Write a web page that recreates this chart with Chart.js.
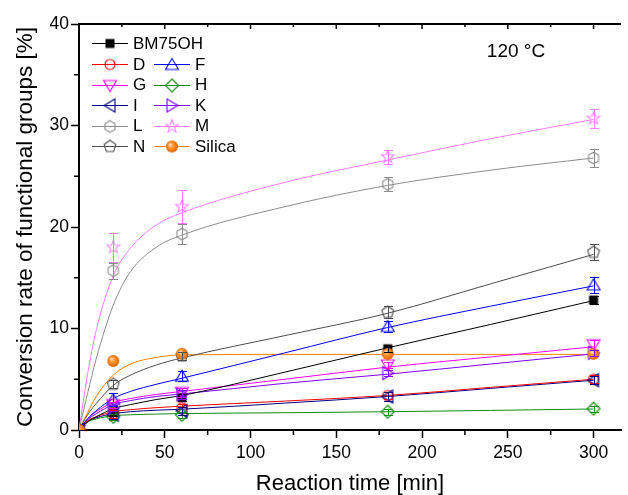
<!DOCTYPE html>
<html>
<head>
<meta charset="utf-8">
<script src="https://cdn.jsdelivr.net/npm/chart.js@4.4.1/dist/chart.umd.min.js"></script>
<style>
  html, body { margin: 0; padding: 0; background: #ffffff; }
  #wrap { width: 628px; height: 495px; }
</style>
</head>
<body>
<div id="wrap"><canvas id="chart" width="628" height="495"></canvas></div>
<script>
// Sampling times of the measured points and of the fitted curves (min)
const timePoints = [0, 20, 60, 180, 300];
const fitTimes = [0, 5, 10, 20, 30, 45, 60, 120, 180, 240, 300];

// Axis ticks
const xTicks = [0, 50, 100, 150, 200, 250, 300];
const xMinorTicks = [25, 75, 125, 175, 225, 275];
const yTicks = [0, 10, 20, 30, 40];
const yMinorTicks = [5, 15, 25, 35];

// Measured conversion rates (%) at timePoints, with standard deviations
const valBM75OH = [0, 1.8, 3.2, 8.0, 12.8];
const errBM75OH = [0, 0.4, 0.3, 0.3, 0.4];
const valD = [0, 1.6, 2.2, 3.4, 5.0];
const errD = [0, 0.4, 0.4, 0.3, 0.4];
const valF = [0, 3.0, 5.3, 10.2, 14.3];
const errF = [0, 0.6, 0.5, 0.5, 0.8];
const valG = [0, 2.5, 3.7, 6.4, 8.4];
const errG = [0, 0.3, 0.4, 0.3, 0.5];
const valH = [0, 1.3, 1.5, 1.8, 2.1];
const errH = [0, 0.3, 0.3, 0.3, 0.3];
const valI = [0, 1.5, 1.9, 3.3, 4.9];
const errI = [0, 0.4, 0.4, 0.4, 0.4];
const valK = [0, 2.2, 3.5, 5.6, 7.6];
const errK = [0, 0.3, 0.4, 0.3, 0.3];
const valL = [0, 15.7, 19.3, 24.2, 26.8];
const errL = [0, 0.8, 1.0, 0.7, 0.9];
const valM = [0, 18.0, 22.0, 26.9, 30.7];
const errM = [0, 1.4, 1.6, 0.7, 0.9];
const valN = [0, 4.5, 7.3, 11.6, 17.5];
const errN = [0, 0.4, 0.4, 0.6, 0.8];
const valSilica = [0, 6.8, 7.5, 7.5, 7.5];
const errSilica = [0, 0, 0, 0, 0];

// Fitted kinetic curves (%) at fitTimes
const fitBM75OH = [0, 0.8, 1.3, 2.1, 2.5, 3.0, 3.4, 5.7, 8.1, 10.4, 12.75];
const fitD = [0, 0.9, 1.3, 1.8, 2.0, 2.2, 2.35, 2.85, 3.4, 4.2, 5.0];
const fitF = [0, 1.1, 1.9, 3.1, 3.8, 4.5, 5.1, 7.6, 10.1, 12.2, 14.2];
const fitG = [0, 1.1, 1.8, 2.7, 3.1, 3.5, 3.8, 5.0, 6.2, 7.2, 8.2];
const fitH = [0, 0.8, 1.1, 1.4, 1.5, 1.57, 1.62, 1.7, 1.8, 1.93, 2.07];
const fitI = [0, 0.8, 1.2, 1.6, 1.8, 1.95, 2.05, 2.65, 3.3, 4.1, 4.9];
const fitK = [0, 1.0, 1.6, 2.5, 2.9, 3.3, 3.55, 4.6, 5.5, 6.5, 7.5];
const fitL = [0, 3.6, 7.0, 12.3, 15.6, 18.0, 19.2, 22.0, 24.1, 25.6, 26.8];
const fitM = [0, 5.5, 9.8, 15.2, 17.9, 20.2, 21.4, 24.4, 26.6, 28.7, 30.6];
const fitN = [0, 1.5, 2.6, 4.4, 5.4, 6.4, 7.1, 9.3, 11.5, 14.4, 17.3];
const fitSilica = [0, 1.7, 3.3, 5.4, 6.5, 7.15, 7.4, 7.45, 7.45, 7.45, 7.45];

const FONT = "'Liberation Sans', Arial, Helvetica, sans-serif";

const series = [
  { name: 'BM75OH', color: '#000000', shape: 'square',   values: valBM75OH, errors: errBM75OH, fit: fitBM75OH, slot: [0, 0] },
  { name: 'D',      color: '#ff0000', shape: 'circle',   values: valD,      errors: errD,      fit: fitD,      slot: [1, 0] },
  { name: 'F',      color: '#0000ff', shape: 'triUp',    values: valF,      errors: errF,      fit: fitF,      slot: [1, 1] },
  { name: 'G',      color: '#ff00ff', shape: 'triDown',  values: valG,      errors: errG,      fit: fitG,      slot: [2, 0] },
  { name: 'H',      color: '#138a13', shape: 'diamond',  values: valH,      errors: errH,      fit: fitH,      slot: [2, 1] },
  { name: 'I',      color: '#000080', shape: 'triLeft',  values: valI,      errors: errI,      fit: fitI,      slot: [3, 0] },
  { name: 'K',      color: '#8000ff', shape: 'triRight', values: valK,      errors: errK,      fit: fitK,      slot: [3, 1] },
  { name: 'L',      color: '#8c8c8c', shape: 'hexagon',  values: valL,      errors: errL,      fit: fitL,      slot: [4, 0] },
  { name: 'M',      color: '#ff80ff', shape: 'star',     values: valM,      errors: errM,      fit: fitM,      slot: [4, 1] },
  { name: 'N',      color: '#4d4d4d', shape: 'pentagon', values: valN,      errors: errN,      fit: fitN,      slot: [5, 0] },
  { name: 'Silica', color: '#ff8000', shape: 'sphere',   values: valSilica, errors: errSilica, fit: fitSilica, slot: [5, 1] }
];

// Symbol glyphs rendered once to small canvases
function markerCanvas(shape, color) {
  const S = 18;
  const c = document.createElement('canvas');
  c.width = S; c.height = S;
  const g = c.getContext('2d');
  g.translate(S / 2, S / 2);
  g.strokeStyle = color;
  g.fillStyle = color;
  g.lineWidth = 1.1;
  const poly = pts => {
    g.beginPath();
    pts.forEach(([px, py], i) => (i ? g.lineTo(px, py) : g.moveTo(px, py)));
    g.closePath();
  };
  const regular = (n, r) => {
    const pts = [];
    for (let k = 0; k < n; k++) {
      const a = -Math.PI / 2 + k * 2 * Math.PI / n;
      pts.push([r * Math.cos(a), r * Math.sin(a)]);
    }
    poly(pts);
  };
  switch (shape) {
    case 'square': g.fillRect(-4.5, -4.5, 9, 9); break;
    case 'circle': g.beginPath(); g.arc(0, 0, 5, 0, 2 * Math.PI); g.stroke(); break;
    case 'triUp': poly([[0, -6], [6.5, 5], [-6.5, 5]]); g.stroke(); break;
    case 'triDown': poly([[0, 6], [6.5, -5], [-6.5, -5]]); g.stroke(); break;
    case 'triLeft': poly([[-6, 0], [5, -6.5], [5, 6.5]]); g.stroke(); break;
    case 'triRight': poly([[6, 0], [-5, -6.5], [-5, 6.5]]); g.stroke(); break;
    case 'diamond': poly([[0, -6.5], [6.5, 0], [0, 6.5], [-6.5, 0]]); g.stroke(); break;
    case 'hexagon': regular(6, 5.8); g.stroke(); break;
    case 'pentagon': regular(5, 6.2); g.stroke(); break;
    case 'star': {
      const pts = [];
      for (let k = 0; k < 10; k++) {
        const a = -Math.PI / 2 + k * Math.PI / 5;
        const r = k % 2 ? 2.8 : 6.6;
        pts.push([r * Math.cos(a), r * Math.sin(a)]);
      }
      poly(pts); g.stroke(); break;
    }
    case 'sphere': {
      const grad = g.createRadialGradient(-2, -2, 0.5, 0, 0, 6.2);
      grad.addColorStop(0, '#ffe2c4');
      grad.addColorStop(0.35, '#ff9a33');
      grad.addColorStop(1, '#d96200');
      g.fillStyle = grad;
      g.beginPath(); g.arc(0, 0, 6, 0, 2 * Math.PI); g.fill();
      break;
    }
  }
  return c;
}

series.forEach(s => { s.glyph = markerCanvas(s.shape, s.color); });

const datasets = [];
series.forEach((s, i) => {
  datasets.push({
    label: s.name + ' fit',
    data: fitTimes.map((t, k) => ({ x: t, y: s.fit[k] })),
    showLine: true,
    borderColor: s.color,
    borderWidth: 1,
    pointRadius: 0,
    cubicInterpolationMode: 'monotone',
    order: 50
  });
  datasets.push({
    label: s.name,
    data: timePoints.map((t, k) => ({ x: t, y: s.values[k] })),
    showLine: false,
    pointStyle: s.glyph,
    pointRadius: 6,
    borderColor: s.color,
    backgroundColor: 'rgba(0,0,0,0)',
    errors: s.errors,
    seriesColor: s.color,
    order: 30 - i
  });
});

// Vertical error bars with caps, placed through the chart scales
const errorBars = {
  id: 'errorBars',
  afterDatasetsDraw(chart) {
    const { ctx, scales: { x, y } } = chart;
    ctx.save();
    ctx.lineWidth = 1;
    chart.data.datasets.forEach(ds => {
      if (!ds.errors) return;
      ctx.strokeStyle = ds.seriesColor;
      ds.data.forEach((p, k) => {
        const e = ds.errors[k];
        if (!e) return;
        const px = Math.round(x.getPixelForValue(p.x)) + 0.5;
        const y1 = y.getPixelForValue(p.y + e);
        const y2 = y.getPixelForValue(p.y - e);
        ctx.beginPath();
        ctx.moveTo(px, y1); ctx.lineTo(px, y2);
        ctx.moveTo(px - 4.5, Math.round(y1) + 0.5); ctx.lineTo(px + 4.5, Math.round(y1) + 0.5);
        ctx.moveTo(px - 4.5, Math.round(y2) + 0.5); ctx.lineTo(px + 4.5, Math.round(y2) + 0.5);
        ctx.stroke();
      });
    });
    ctx.restore();
  }
};

// Top frame line, minor ticks and inward ticks on the top edge
const frame = {
  id: 'frame',
  afterDraw(chart) {
    const { ctx, chartArea: a, scales: { x, y } } = chart;
    ctx.save();
    ctx.strokeStyle = '#000';
    ctx.lineWidth = 2;
    ctx.beginPath();
    ctx.moveTo(a.left, a.top); ctx.lineTo(a.right, a.top);
    ctx.stroke();
    ctx.lineWidth = 1.5;
    ctx.beginPath();
    xTicks.forEach(v => {
      const px = x.getPixelForValue(v);
      ctx.moveTo(px, a.top); ctx.lineTo(px, a.top + 5);
    });
    xMinorTicks.forEach(v => {
      const px = x.getPixelForValue(v);
      ctx.moveTo(px, a.top); ctx.lineTo(px, a.top + 3);
      ctx.moveTo(px, a.bottom); ctx.lineTo(px, a.bottom + 5);
    });
    yMinorTicks.forEach(v => {
      const py = y.getPixelForValue(v);
      ctx.moveTo(a.left - 5, py); ctx.lineTo(a.left, py);
    });
    ctx.stroke();
    ctx.restore();
  }
};

// Two-column key in the upper left and the temperature note
const seriesKey = {
  id: 'seriesKey',
  afterDraw(chart) {
    const { ctx } = chart;
    const rowY = [43, 64, 84.5, 105, 125.5, 146];
    const cols = [{ l1: 92, l2: 128, m: 110, t: 133 }, { l1: 154, l2: 190, m: 172, t: 195 }];
    ctx.save();
    ctx.font = '17px ' + FONT;
    ctx.textBaseline = 'middle';
    ctx.textAlign = 'left';
    series.forEach(s => {
      const yy = rowY[s.slot[0]];
      const c = cols[s.slot[1]];
      ctx.strokeStyle = s.color;
      ctx.lineWidth = 1.2;
      ctx.beginPath();
      ctx.moveTo(c.l1, Math.round(yy) + 0.5); ctx.lineTo(c.l2, Math.round(yy) + 0.5);
      ctx.stroke();
      ctx.drawImage(s.glyph, c.m - s.glyph.width / 2, Math.round(yy) - s.glyph.height / 2 + 0.5);
      ctx.fillStyle = '#000';
      ctx.fillText(s.name, c.t, yy + 1);
    });
    ctx.font = '19px ' + FONT;
    ctx.textAlign = 'center';
    ctx.fillText('120 \u00B0C', 516, 52);
    ctx.restore();
  }
};

Chart.defaults.font.family = FONT;
Chart.defaults.color = '#000';

new Chart(document.getElementById('chart'), {
  type: 'scatter',
  data: { datasets },
  plugins: [errorBars, frame, seriesKey],
  options: {
    responsive: false,
    animation: false,
    devicePixelRatio: 1,
    layout: { padding: { top: 24, right: 0, left: 0, bottom: 0 } },
    plugins: { legend: { display: false }, tooltip: { enabled: false } },
    scales: {
      x: {
        type: 'linear',
        min: 0,
        max: 316,
        afterBuildTicks: s => { s.ticks = xTicks.map(v => ({ value: v })); },
        afterFit: s => { s.height = 65; },
        ticks: { font: { size: 17.5 }, padding: 5, maxRotation: 0, autoSkip: false },
        grid: { drawOnChartArea: false, drawTicks: true, tickLength: 8, tickWidth: 1.5, tickColor: '#000' },
        border: { display: true, color: '#000', width: 2 },
        title: { display: true, text: 'Reaction time [min]', font: { size: 22 }, padding: { top: 0, bottom: -2 } }
      },
      y: {
        type: 'linear',
        min: 0,
        max: 40,
        afterBuildTicks: s => { s.ticks = yTicks.map(v => ({ value: v })); },
        afterFit: s => { s.width = 79; },
        ticks: { font: { size: 17.5 }, padding: 2 },
        grid: { drawOnChartArea: false, drawTicks: true, tickLength: 8, tickWidth: 1.5, tickColor: '#000' },
        border: { display: true, color: '#000', width: 2 },
        title: { display: true, text: 'Conversion rate of functional groups [%]', font: { size: 22.5 }, padding: { top: 12, bottom: 0 } }
      }
    }
  }
});
</script>
</body>
</html>
